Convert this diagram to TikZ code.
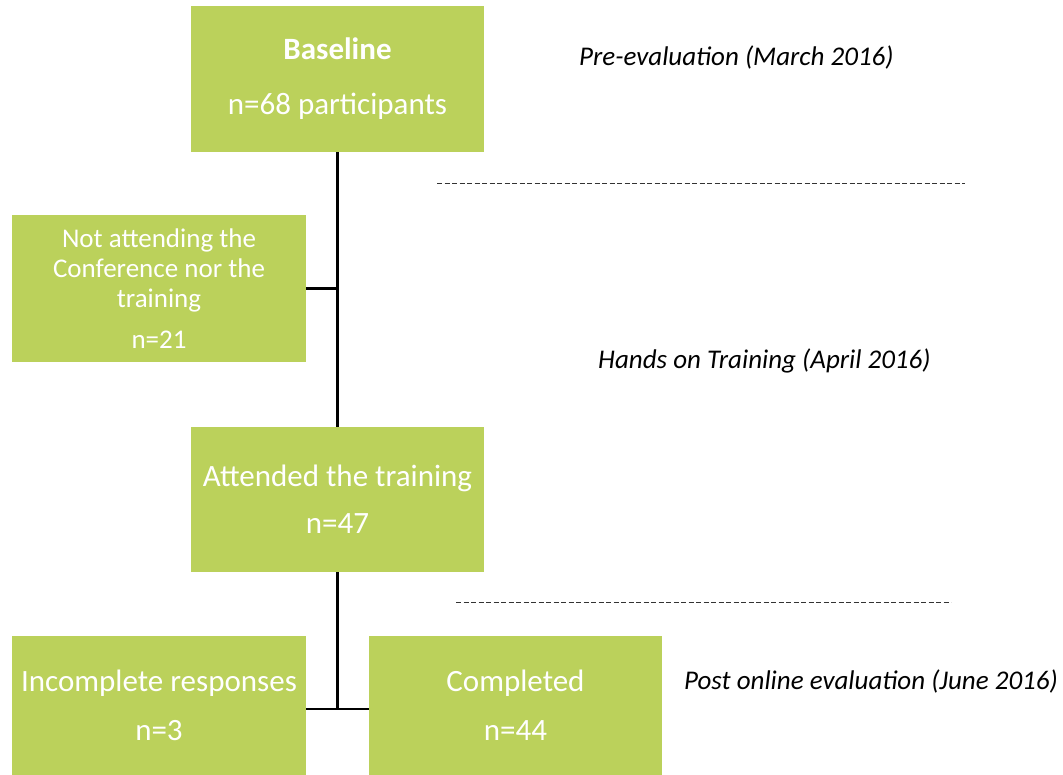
\documentclass[tikz,border=0pt]{standalone}
\usepackage{fontspec}
\setmainfont{Carlito}
\definecolor{boxgreen}{RGB}{187,209,91}
\tikzset{
  gbox/.style={fill=boxgreen, draw=none, text=white, align=center, inner sep=0pt},
  conn/.style={draw=black, line width=2.2pt},
  sep/.style={draw=black!80, line width=0.9pt, dash pattern=on 5pt off 2.5pt},
  phase/.style={anchor=base west, inner sep=0pt, font=\fontsize{27}{32}\selectfont\itshape}
}
\begin{document}
\begin{tikzpicture}[x=1pt,y=-1pt]
\useasboundingbox (0,0) rectangle (1063,775);
\node[gbox, minimum width=293pt, minimum height=146pt, font=\fontsize{31}{55}\selectfont] (base) at (337.5,79) {\textbf{Baseline}\\n=68 participants};
\node[gbox, minimum width=294pt, minimum height=147pt, font=\fontsize{27}{30}\selectfont] (na) at (159,288.5) {Not attending the\\Conference nor the\\training\\[11pt]n=21};
\node[gbox, minimum width=293pt, minimum height=145pt, font=\fontsize{31}{47}\selectfont] (att) at (337.5,499.5) {Attended the training\\n=47};
\node[gbox, minimum width=294pt, minimum height=139pt, font=\fontsize{31}{49}\selectfont] (inc) at (159,705.5) {Incomplete responses\\n=3};
\node[gbox, minimum width=293pt, minimum height=139pt, font=\fontsize{31}{49}\selectfont] (comp) at (515.5,705.5) {Completed\\n=44};
% connectors
\coordinate (j1) at (na.east -| base.south);
\draw[conn] (base.south) -- (att.north);
\draw[conn] (na.east) -- (j1);
\coordinate (j2) at (337.5,709);
\coordinate (il) at (306,709);
\coordinate (cr) at (369,709);
\draw[conn] (att.south) -- (j2);
\draw[conn] (il) -- (cr);
% separators
\coordinate (d1a) at (437,183);
\coordinate (d1b) at (965,183);
\coordinate (d2a) at (456,602);
\coordinate (d2b) at (951,602);
\draw[sep] (d1a) -- (d1b);
\draw[sep] (d2a) -- (d2b);
% phase labels
\node[phase] (p1) at (579,66) {Pre-evaluation (March 2016)};
\node[phase] (p2) at (598,369) {Hands on Training (April 2016)};
\node[phase] (p3) at (684,689) {Post online evaluation (June 2016)};
\end{tikzpicture}
\end{document}
